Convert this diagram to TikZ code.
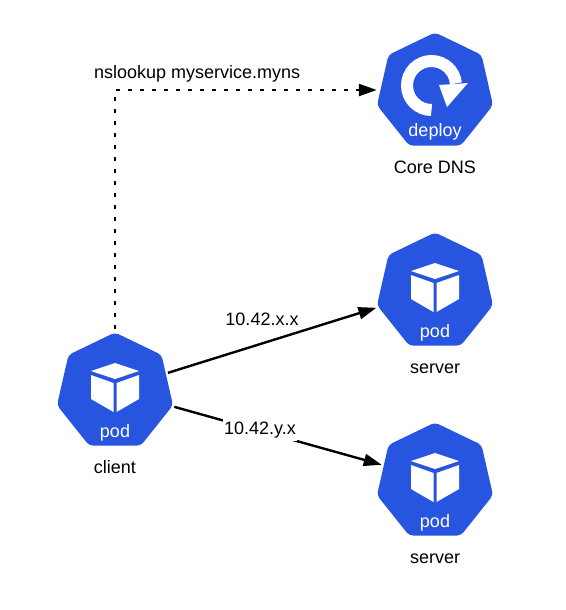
\documentclass[tikz,border=0pt]{standalone}
\usepackage{fontspec}
\setmainfont{Liberation Sans}
\usetikzlibrary{positioning,shapes.geometric,arrows.meta}
\definecolor{kubeblue}{HTML}{2855E0}
\tikzset{
    hepta/.style={regular polygon, regular polygon sides=7, minimum size=119pt, inner sep=0pt,
        fill=kubeblue, rounded corners=4pt},
    caption/.style={inner sep=0pt, text height=13pt, text depth=4pt, font=\fontsize{18}{20}\selectfont},
    kind/.style={inner sep=0pt, anchor=base, text=white, font=\fontsize{18}{20}\selectfont},
    link/.style={line width=2.4pt, -{Triangle[length=18pt,width=12pt]}},
    lookup/.style={line width=2.4pt, dash pattern=on 4pt off 8pt, -{Triangle[length=18pt,width=12pt]}},
    pics/podicon/.style={code={
        \fill[white] (0,-29) -- (-24,-21) -- (0,-13) -- (24,-21) -- cycle;
        \fill[white] (-24,-17) -- (-1.5,-9) -- (-1.5,20) -- (-24,7) -- cycle;
        \fill[white] (24,-17) -- (1.5,-9) -- (1.5,20) -- (24,7) -- cycle;
        \node[kind] (-text) at (0,45) {pod};
    }},
    pics/deployicon/.style={code={
        \draw[white, line width=12pt] (-3.5,18) arc[start angle=90, end angle=355, radius=24.5];
        \fill[white] (4,-7) -- (33,-9) -- (12,15) -- cycle;
        \node[kind] (-text) at (0,44) {deploy};
    }},
}

\begin{document}
\begin{tikzpicture}[x=1pt, y=-1pt]
    \useasboundingbox (0,0) rectangle (565,610);
    % workloads
    \node[hepta] (dns) at (435,92) {};
    \node[hepta] (server1) at (435,292) {};
    \node[hepta] (server2) at (435,482) {};
    \node[hepta] (client) at (115,392) {};
    \pic (dnsicon) at (dns.center) {deployicon};
    \pic (server1icon) at (server1.center) {podicon};
    \pic (server2icon) at (server2.center) {podicon};
    \pic (clienticon) at (client.center) {podicon};
    \node[caption, below=14pt of dns] (dnsname) {Core DNS};
    \node[caption, below=14pt of server1] (server1name) {server};
    \node[caption, below=14pt of server2] (server2name) {server};
    \node[caption, below=14pt of client] (clientname) {client};
    % connections
    \draw[lookup, shorten <=3.5pt, shorten >=3pt] (client.north) |- node[caption, pos=0.655, above=6pt] (lookuptext) {nslookup myservice.myns} ([yshift=2pt]dns.west);
    \draw[link, shorten <=2pt, shorten >=2pt] (client.20) -- (server1.195);
    \draw[link, shorten <=2pt, shorten >=2pt] (client.-14) -- node[caption, fill=white, inner xsep=1pt, inner ysep=3pt, yshift=1pt, pos=0.415] (ytext) {10.42.y.x} (server2.162);
    \node[caption] (xtext) at (262,321) {10.42.x.x};
\end{tikzpicture}
\end{document}
